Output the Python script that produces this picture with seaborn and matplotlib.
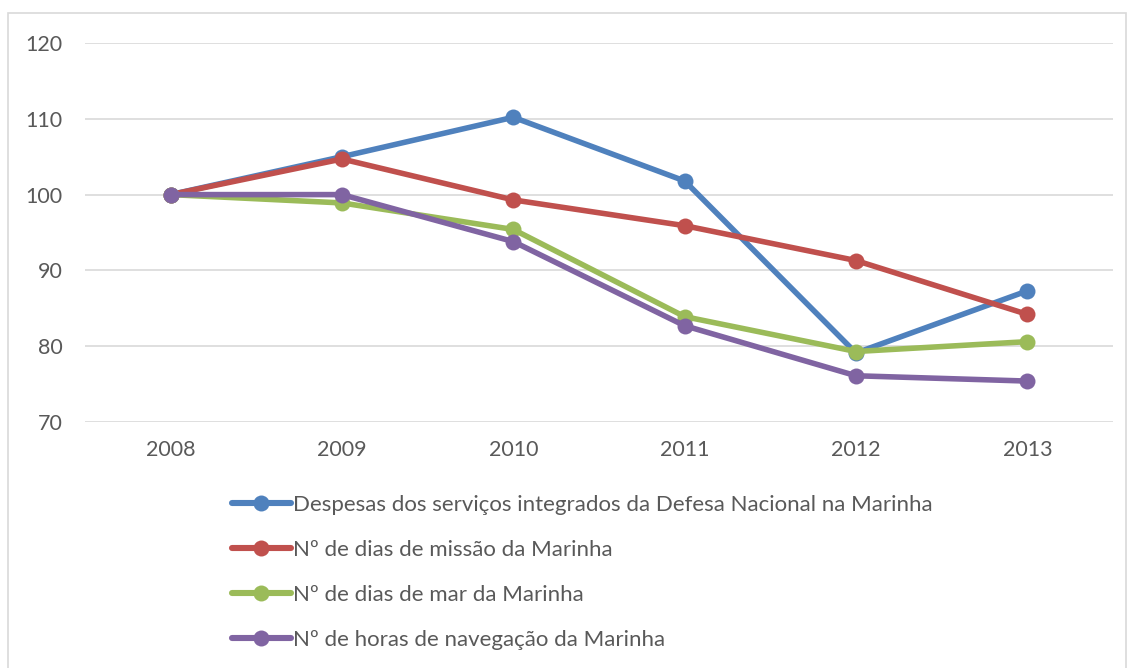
import matplotlib
matplotlib.use("Agg")
import matplotlib.pyplot as plt
import seaborn as sns
import pandas as pd
from matplotlib.patches import Rectangle

years = ["2008", "2009", "2010", "2011", "2012", "2013"]
series_names = [
    "Despesas dos serviços integrados da Defesa Nacional na Marinha",
    "Nº de dias de missão da Marinha",
    "Nº de dias de mar da Marinha",
    "Nº de horas de navegação da Marinha",
]
despesas = [100, 105.0, 110.2, 101.8, 79.1, 87.3]
dias_missao = [100, 104.7, 99.3, 95.9, 91.3, 84.2]
dias_mar = [100, 98.9, 95.4, 83.9, 79.3, 80.6]
horas_nav = [100, 100.0, 93.8, 82.7, 76.1, 75.4]
colors = ["#4F81BD", "#C0504D", "#9BBB59", "#8064A2"]

values = [despesas, dias_missao, dias_mar, horas_nav]
rows = []
for name, vals in zip(series_names, values):
    for i, (y, v) in enumerate(zip(years, vals)):
        rows.append({"pos": i, "year": y, "value": v, "serie": name})
df = pd.DataFrame(rows)

sns.set_theme(style="white")
plt.rcParams["font.family"] = ["Lato", "DejaVu Sans"]
text_color = "#595959"
fs = 15.5
lfs = 16

fig = plt.figure(figsize=(11.28, 6.68), dpi=100)
W, H = 1128, 668
ax = fig.add_axes([85 / W, 1 - 422 / H, (1113 - 85) / W, (422 - 43) / H])

sns.lineplot(data=df, x="pos", y="value", hue="serie", hue_order=series_names,
             palette=colors, marker="o", markersize=11.5, linewidth=4.0,
             markeredgewidth=0, ax=ax, legend=True, sort=False)

ax.set_xlim(-0.5, 5.5)
ax.set_ylim(70, 120)
ax.set_yticks([70, 80, 90, 100, 110, 120])
ax.set_xticks(range(len(years)))
ax.set_xticklabels(years)
ax.set_xlabel("")
ax.set_ylabel("")
ax.grid(axis="y", color="#D9D9D9", linewidth=1.2)
ax.set_axisbelow(True)
for s in ax.spines.values():
    s.set_visible(False)
ax.tick_params(axis="both", length=0, labelsize=fs, colors=text_color)
ax.tick_params(axis="y", pad=16)
ax.tick_params(axis="x", pad=13)

handles, labels = ax.get_legend_handles_labels()
for h in handles:
    h.set_linewidth(4.4)
    h.set_markersize(11.5)
ax.legend(handles, labels, loc="upper left", bbox_to_anchor=(232 / W, 1 - 495 / H),
          bbox_transform=fig.transFigure, frameon=False, ncol=1, fontsize=lfs,
          labelcolor=text_color, handlelength=2.65, handletextpad=0.1,
          labelspacing=1.12, borderaxespad=0, borderpad=0)

fig.patches.append(Rectangle((8 / W, -0.01), (1126 - 8) / W, 1 - 13 / H + 0.01,
                             transform=fig.transFigure, fill=False,
                             edgecolor="#D9D9D9", linewidth=1.2))

fig.savefig("out.png", dpi=100)
